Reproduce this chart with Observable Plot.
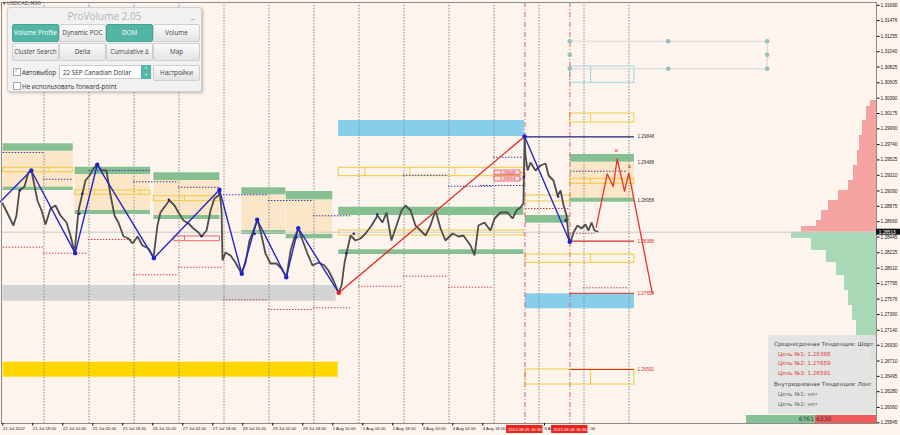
<!DOCTYPE html>
<html><head><meta charset="utf-8">
<script src="https://cdn.jsdelivr.net/npm/d3@7"></script>
<script src="https://cdn.jsdelivr.net/npm/@observablehq/plot@0.6"></script>
<style>
body{margin:0;background:#fdf4ee;font-family:"DejaVu Sans",sans-serif;}
#wrap{position:relative;width:900px;height:435px;overflow:hidden;}
#chart svg{display:block}
.ov{position:absolute;box-sizing:border-box;}
#sym{left:3px;top:0px;font-size:5px;color:#333;}
#panel{left:7px;top:7px;width:195px;height:85px;background:#f1f1f1;border:1px solid #d0d0d0;border-radius:3px;box-shadow:1px 1px 3px rgba(0,0,0,0.25);font-family:"Open Sans",sans-serif;}
#panel .title{position:absolute;left:0;top:1px;width:100%;text-align:center;font-size:10px;color:#b4b4b4;}
#panel .min{position:absolute;right:6px;top:0px;font-size:9px;color:#999;}
.btn{position:absolute;height:16px;border:1px solid #cfcfcf;border-radius:2px;background:linear-gradient(#fafafa,#e4e4e4);font-size:6.3px;color:#444;text-align:center;line-height:15px;}
.btn.on{background:#52b5a6;border-color:#47a394;color:#fff;}
.chk{position:absolute;width:6px;height:6px;border:1px solid #aaa;background:#fff;}
.lbl{position:absolute;font-size:6.3px;color:#333;}
#dd{left:51px;top:57px;width:92px;height:14px;border:1px solid #ccc;background:#fff;font-size:6.3px;color:#333;line-height:13px;padding-left:3px;}
#dd .arr{position:absolute;right:-1px;top:-1px;width:10px;height:14px;background:#52b5a6;color:#fff;font-size:5px;line-height:7px;text-align:center;}
#info{left:768px;top:335px;width:108px;height:79px;background:rgba(226,226,226,0.92);border-radius:2px;font-size:5.6px;color:#444;padding:5px 0 0 6px;line-height:9.6px;}
#info .r{color:#e03a3a;padding-left:4px;}
#info .g{color:#666;padding-left:4px;}
#bar{left:746px;top:415px;width:130px;height:8px;font-size:6px;line-height:8px;}
#bar .gr{position:absolute;left:0;top:0;width:69px;height:8px;background:#86c196;text-align:right;color:#333;padding-right:1px;box-sizing:border-box;}
#bar .rd{position:absolute;left:69px;top:0;width:61px;height:8px;background:#f05a5a;color:#333;padding-left:1px;box-sizing:border-box;}
</style></head><body><div id="wrap"><div id="chart"></div>
<div class="ov" id="sym">▾ USDCAD,M30</div>
<div class="ov" id="panel">
 <div class="title">ProVolume 2.05</div><div class="min">_</div>
 <div class="btn on" style="left:4px;top:16px;width:45px">Volume Profile</div>
 <div class="btn" style="left:51px;top:16px;width:45px">Dynamic POC</div>
 <div class="btn on" style="left:98px;top:16px;width:45px">DOM</div>
 <div class="btn" style="left:145px;top:16px;width:45px">Volume</div>
 <div class="btn" style="left:4px;top:35px;width:45px">Cluster Search</div>
 <div class="btn" style="left:51px;top:35px;width:45px">Delta</div>
 <div class="btn" style="left:98px;top:35px;width:45px">Cumulative Δ</div>
 <div class="btn" style="left:145px;top:35px;width:45px">Map</div>
 <div class="chk" style="left:5px;top:60px"></div><div class="lbl" style="left:6px;top:57px;color:#4a9">✓</div>
 <div class="lbl" style="left:14px;top:60px">Автовыбор</div>
 <div class="ov" id="dd">22 SEP Canadian Dollar<div class="arr">˄<br>˅</div></div>
 <div class="btn" style="left:145px;top:57px;width:45px;height:14px;line-height:13px">Настройки</div>
 <div class="chk" style="left:5px;top:74px"></div>
 <div class="lbl" style="left:14px;top:74px">Не использовать forward-point</div>
</div>
<div class="ov" id="info">
 <div>Среднесрочная Тенденция: Шорт</div>
 <div class="r">Цель №1: 1.28388</div>
 <div class="r">Цель №2: 1.27659</div>
 <div class="r">Цель №3: 1.26591</div>
 <div style="margin-top:2px">Внутридневная Тенденция: Лонг</div>
 <div class="g">Цель №1: нет</div>
 <div class="g">Цель №2: нет</div>
</div>
<div class="ov" id="bar"><div class="gr">6761</div><div class="rd">6330</div></div>
</div>
<script>
// ---- axes ----
const xDomain = [1.33, 468];          // trading hours since 21 Jul 00:00
const yDomain = [1.25835, 1.31729];
const yTicks = [1.31690,1.31476,1.31255,1.31040,1.30825,1.30605,1.30390,1.30175,1.29960,1.29740,1.29525,1.29310,1.29090,1.28875,1.28660,1.28445,1.28225,1.28010,1.27795,1.27576,1.27360,1.27140,1.26930,1.26710,1.26495,1.26280,1.26060,1.25845];
const xTickHours = [2,18,34,50,66,82,98,114,130,146,162,178,194,210,226,242,258,290.9];
const xTickLabels = ["21 Jul 2022","21 Jul 18:00","22 Jul 10:00","25 Jul 02:00","25 Jul 18:00","26 Jul 10:00","27 Jul 02:00","27 Jul 18:00","28 Jul 10:00","29 Jul 02:00","29 Jul 18:00","1 Aug 10:00","2 Aug 02:00","2 Aug 18:00","3 Aug 10:00","4 Aug 02:00","4 Aug 18:00","8 Au"];
const xTickTailHour = 315.4;      // visible tail of the "8 Aug 18:00" label
const xTickTail = "00";
const daySeparators = [24,48,72,96,120,144,168,192,216,240,264,288,312,336];
const markerHours = [280.5, 304.5];
const markerLabels = ["2022.08.05 16:30","2022.08.08 16:30"];

// ---- price ----
const priceH = [1.9,5.1,7.7,9.3,10.9,13.6,15.7,17.3,18.9,20.5,22.7,24.8,27.5,30.1,32.8,36.0,38.1,40.3,42.4,44.5,46.1,48.3,50.4,52.5,54.7,57.3,59.5,61.6,63.7,66.4,69.1,71.2,73.9,76.5,79.7,82.4,84.5,86.1,88.8,90.9,93.6,95.7,98.4,101.1,103.7,106.4,108.0,110.7,112.8,114.9,117.1,117.6,118.7,119.2,120.8,123.5,126.1,129.3,131.5,133.6,135.7,137.9,140.0,142.1,144.8,148.0,150.7,153.3,155.5,157.6,159.7,161.9,164.5,167.2,170.4,173.6,175.7,178.4,181.1,182.7,184.3,185.9,187.5,190.1,192.8,195.5,198.7,201.9,204.5,206.7,209.3,212.0,214.7,216.8,219.5,222.1,224.8,227.5,230.1,232.8,235.5,238.1,241.9,245.1,247.7,251.5,253.6,255.7,258.9,262.1,264.3,267.5,271.2,273.9,276.0,278.1,279.7,280.3,280.8,281.9,283.5,286.1,288.8,291.5,293.1,295.7,297.9,299.5,301.1,302.7,303.7,304.8,306.4,308.5,310.7,312.8,314.4,316.0,317.6,319.2];
const priceP = [1.28915,1.28747,1.28607,1.28747,1.29097,1.29153,1.29349,1.29377,1.29167,1.28957,1.28817,1.28621,1.28845,1.28887,1.28747,1.28649,1.28467,1.28229,1.28817,1.29055,1.29237,1.29307,1.29405,1.29461,1.29377,1.29377,1.29027,1.28747,1.28649,1.28453,1.28425,1.28355,1.28453,1.28327,1.28285,1.28159,1.28607,1.28789,1.28887,1.28957,1.28887,1.28789,1.28677,1.28635,1.28565,1.28509,1.28453,1.28537,1.28817,1.28985,1.29027,1.29111,1.28817,1.28117,1.28229,1.28187,1.28089,1.27935,1.28089,1.28397,1.28537,1.28691,1.28467,1.28215,1.28075,1.28075,1.28005,1.27879,1.28257,1.28439,1.28565,1.28397,1.28215,1.28047,1.28089,1.28047,1.27977,1.27837,1.27669,1.27767,1.28089,1.28285,1.28467,1.28397,1.28425,1.28495,1.28607,1.28747,1.28649,1.28789,1.28397,1.28607,1.28817,1.28887,1.28817,1.28607,1.28537,1.28467,1.28607,1.28817,1.28565,1.28397,1.28495,1.28453,1.28467,1.28327,1.28187,1.28607,1.28649,1.28537,1.28705,1.28789,1.28789,1.28705,1.28817,1.28859,1.28915,1.29853,1.29587,1.29377,1.29489,1.29377,1.29447,1.29475,1.29307,1.29237,1.29027,1.29097,1.28887,1.28747,1.28467,1.28369,1.28509,1.28607,1.28565,1.28621,1.28537,1.28649,1.28537,1.28523];
const currentPrice = 1.28513;

// ---- zigzag ----
const zigBlueH = [0.8,17.2,40.6,52.4,82.6,117.6,129.5,137.7,153.2,159.6,181.2];
const zigBlueP = [1.28943,1.29377,1.28220,1.29457,1.28150,1.29107,1.27931,1.28687,1.27883,1.28569,1.27665];
const zigRedH = [181.2,280.3];
const zigRedP = [1.27665,1.29853];
const zigBlue2H = [280.3,304.4];
const zigBlue2P = [1.29853,1.28380];
const projH = [318.5,324.4,327.6,329.7,333.6,335.9,348.4];
const projP = [1.28584,1.29331,1.29153,1.29541,1.29088,1.29339,1.27660];
const minorDotH = [11.1,44.4,42.9,90.6,108,136.4,158.5,185.2,189.2,201.7,298.2,279.9,302.1];
const minorDotP = [1.29097,1.29051,1.28771,1.28967,1.28458,1.28491,1.28443,1.28220,1.28491,1.28761,1.29013,1.29284,1.28677];
const crossH = [329.2,336.3];
const crossP = [1.29648,1.29424];

// ---- zones [h1,h2,pLo,pHi] ----
const orangeZones = [[2.2,39.6,1.29135,1.29647],[40.6,80.8,1.28817,1.29321],[82.6,117.8,1.28747,1.29237],[129.5,153.0,1.28537,1.29037],[153.2,178.0,1.28481,1.28967],[304.6,338.9,1.28989,1.29494]];
const greenBars = [[2.2,39.6,1.29647,1.29751],[2.2,39.6,1.29097,1.29143],[40.6,80.8,1.29321,1.29423],[40.6,80.8,1.28761,1.28817],[82.6,117.8,1.29237,1.29345],[82.6,117.8,1.28691,1.28747],[129.5,153.0,1.29037,1.29135],[129.5,153.0,1.28481,1.28537],[153.2,178.0,1.28967,1.29083],[153.2,178.0,1.28421,1.28481],[181.2,279.9,1.28747,1.28863],[181.2,279.9,1.28201,1.28267],[280.8,304.4,1.28640,1.28747],[304.6,338.9,1.29494,1.29601],[304.6,338.9,1.28933,1.28989]];
const yellowBoxes = [[2.2,39.6,1.29353,1.29415],[40.6,80.8,1.29037,1.29097],[82.6,117.8,1.28947,1.29017],[181.2,279.9,1.29298,1.29415],[181.2,279.9,1.28467,1.28537],[280.8,304.4,1.28943,1.29027],[304.6,338.9,1.30049,1.30175],[304.6,338.9,1.29191,1.29261],[280.8,338.9,1.28085,1.28201],[280.8,338.9,1.26381,1.26591]];
const yellowDividers = [[26.9,1.29353,1.29415],[50.9,1.29037,1.29097],[75.5,1.29037,1.29097],[98.9,1.28947,1.29017],[195.1,1.29298,1.29415],[219.1,1.29298,1.29415],[243.1,1.29298,1.29415],[315.5,1.30049,1.30175],[315.5,1.29191,1.29261],[315.5,1.28085,1.28201],[315.5,1.26381,1.26591]];
const skyBars = [[181.1,280.3,1.29853,1.30077],[280.8,338.9,1.27441,1.27651]];
const skyBoxes = [[304.6,338.9,1.30605,1.30833]];
const skyDividers = [[315.5,1.30605,1.30833]];
const grayBars = [[2.2,179.8,1.27547,1.27767]];
const goldBars = [[2.2,180.9,1.26483,1.26693]];
const redBoxes = [[93.6,117.8,1.28387,1.28454]];
const redBoxDividers = [[98.9,1.28387,1.28454]];

// ---- dotted levels [h1,h2,p] ----
const blueDotted = [[2.2,23.7,1.29629],[23.7,39.6,1.29255],[47.9,80.8,1.29377],[71.7,95.7,1.29219],[95.7,117.6,1.29143],[119.7,143.7,1.29037],[143.7,167.7,1.28957],[167.7,187.5,1.28743],[215.7,239.7,1.29311],[239.7,263.7,1.29157],[256.8,279.7,1.29167],[263.7,279.7,1.29563],[304.8,335.2,1.29367]];
const redDotted = [[2.2,23.7,1.28303],[23.7,47.7,1.28219],[47.7,71.7,1.28411],[71.7,95.7,1.27917],[95.7,119.7,1.28023],[119.7,143.7,1.27567],[143.7,167.7,1.27431],[167.7,187.5,1.27455],[191.7,215.2,1.27757],[215.7,239.7,1.27897],[239.7,263.7,1.27743],[280.8,304.4,1.28845],[304.8,318.1,1.28499],[311.8,335.7,1.27735]];

// ---- target levels ----
const levelPrices = [1.29848,1.28388,1.27659,1.26591];
const levelStart = [280.3,304.4,304.4,304.4];
const levelEnd = [338.9,338.9,338.9,338.9];
const levelColors = ["#1c1c7a","#d32f2f","#d32f2f","#d32f2f"];
const tagPrices = [1.29848,1.29488,1.28958,1.28388,1.27659,1.26591];
const tagColors = ["#333","#333","#333","#d32f2f","#d32f2f","#d32f2f"];
const tagHour = 340.5;
const boxTagLabels = ["1.29348","1.29263"];
const boxTagRanges = [[264.3,278.1,1.29317,1.29377],[264.3,278.1,1.29223,1.29293]];

// ---- drawing tool (top right) ----
const toolH = [304.4,356.9,409.7];
const toolP = [1.31187,1.30997,1.30801];
const toolDots = [[304.4,1.31187],[356.9,1.31187],[409.7,1.31187],[304.4,1.30997],[409.7,1.30997],[304.4,1.30801],[356.9,1.30801],[409.7,1.30801]];

// ---- volume profile [pHi,pLo,volume] ----
const volSell = [[1.30357,1.30273,6],[1.30273,1.30077,10],[1.30077,1.29867,14],[1.29867,1.29657,17],[1.29657,1.29447,19],[1.29447,1.29237,23],[1.29237,1.29097,28],[1.29097,1.28957,38],[1.28957,1.28817,48],[1.28817,1.28677,55],[1.28677,1.28593,60],[1.28593,1.28513,75]];
const volBuy = [[1.28513,1.28425,85],[1.28425,1.28257,65],[1.28257,1.28089,50],[1.28089,1.27907,40],[1.27907,1.27697,32],[1.27697,1.27487,28],[1.27487,1.27277,24],[1.27277,1.27067,20],[1.27067,1.26927,16],[1.26927,1.26717,6]];
const volUnitHours = 1/1.875;

const axisFont = "Liberation Sans, Arial, sans-serif";
const xEnd = xDomain[1];
const R = (arr, opts) => Plot.rect(arr, {x1:d=>d[0], x2:d=>d[1], y1:d=>d[2], y2:d=>d[3], ...opts});
const pts = (H,P) => H.map((h,i)=>({h, p:P[i]}));

const chart = Plot.plot({
  width: 900, height: 435,
  marginLeft: 1, marginRight: 24, marginTop: 2, marginBottom: 12,
  x: {domain: xDomain},
  y: {domain: yDomain},
  style: {background: "#fdf4ee", fontFamily: axisFont},
  marks: [
    R(orangeZones, {fill: "#fce6c8"}),
    R(grayBars, {fill: "#d3d3d3"}),
    R(goldBars, {fill: "#ffd700"}),
    R(skyBars, {fill: "#87ceeb"}),
    Plot.ruleX(daySeparators, {stroke: "#8a8a8a", strokeWidth: 1, strokeDasharray: "1.5,1.5"}),
    R(greenBars, {fill: "#86bf91"}),
    R(yellowBoxes, {stroke: "#f0cc3c", strokeWidth: 1}),
    Plot.ruleX(yellowDividers, {x: d=>d[0], y1: d=>d[1], y2: d=>d[2], stroke: "#f0cc3c"}),
    R(skyBoxes, {stroke: "#9fd3e6", strokeWidth: 1}),
    Plot.ruleX(skyDividers, {x: d=>d[0], y1: d=>d[1], y2: d=>d[2], stroke: "#9fd3e6"}),
    R(redBoxes, {stroke: "#e06a6a", strokeWidth: 1}),
    Plot.ruleX(redBoxDividers, {x: d=>d[0], y1: d=>d[1], y2: d=>d[2], stroke: "#e06a6a"}),
    Plot.ruleY(blueDotted, {x1: d=>d[0], x2: d=>d[1], y: d=>d[2], stroke: "#3a3aa0", strokeDasharray: "1.5,1.5"}),
    Plot.ruleY(redDotted, {x1: d=>d[0], x2: d=>d[1], y: d=>d[2], stroke: "#d04040", strokeDasharray: "1.5,1.5"}),
    // volume profile
    Plot.rect(volSell, {x1: d=>xEnd - d[2]*volUnitHours, x2: xEnd, y1: d=>d[1], y2: d=>d[0], fill: "#f5a3a0"}),
    Plot.rect(volBuy, {x1: d=>xEnd - d[2]*volUnitHours, x2: xEnd, y1: d=>d[1], y2: d=>d[0], fill: "#a9d8b7"}),
    Plot.ruleY([currentPrice], {stroke: "#c9c9c9", strokeWidth: 1}),
    Plot.ruleX(markerHours, {stroke: "#e06060", strokeWidth: 1, strokeDasharray: "5,2,1,2"}),
    // drawing tool
    Plot.ruleY(toolP.filter((p,i)=>i!==1), {x1: toolH[0], x2: toolH[2], y: d=>d, stroke: "#d6d6d6"}),
    Plot.ruleX([toolH[2]], {y1: toolP[2], y2: toolP[0], stroke: "#d6d6d6"}),
    Plot.dot(toolDots, {x: d=>d[0], y: d=>d[1], r: 2.3, fill: "#94c2b8"}),
    // price
    Plot.line(pts(priceH, priceP), {x: "h", y: "p", stroke: "#4d4d4d", strokeWidth: 1.8, strokeLinejoin: "miter"}),
    // levels
    Plot.ruleY(levelPrices, {x1: (d,i)=>levelStart[i], x2: (d,i)=>levelEnd[i], y: d=>d, stroke: (d,i)=>levelColors[i], strokeWidth: 1.1}),
    Plot.text(tagPrices, {x: tagHour, y: d=>d, text: d=>d.toFixed(5), fill: (d,i)=>tagColors[i], fontSize: 4.6, textAnchor: "start"}),
    // zigzag
    Plot.line(pts(zigBlueH, zigBlueP), {x: "h", y: "p", stroke: "#2626c8", strokeWidth: 1.4}),
    Plot.line(pts(zigBlue2H, zigBlue2P), {x: "h", y: "p", stroke: "#2626c8", strokeWidth: 1.4}),
    Plot.line(pts(zigRedH, zigRedP), {x: "h", y: "p", stroke: "#e3261f", strokeWidth: 1.3}),
    Plot.line(pts(projH, projP), {x: "h", y: "p", stroke: "#e8322a", strokeWidth: 1.3}),
    Plot.dot(pts(zigBlueH.slice(1,-1), zigBlueP.slice(1,-1)).concat(pts(zigBlue2H, zigBlue2P)), {x: "h", y: "p", r: 2.2, fill: "#2020d0"}),
    Plot.dot(pts([zigRedH[0]], [zigRedP[0]]), {x: "h", y: "p", r: 2.3, fill: "#ee1c1c"}),
    Plot.dot(pts(minorDotH, minorDotP), {x: "h", y: "p", r: 1.2, fill: "#1a1a90"}),
    Plot.text(pts(crossH, crossP), {x: "h", y: "p", text: () => "×", fill: "#e03030", fontSize: 7}),
    // box tags
    R(boxTagRanges, {fill: "#fbe3e3", stroke: "#e05555", strokeWidth: 0.8}),
    Plot.text(boxTagLabels, {x: (d,i)=>(boxTagRanges[i][0]+boxTagRanges[i][1])/2, y: (d,i)=>(boxTagRanges[i][2]+boxTagRanges[i][3])/2, text: d=>d, fill: "#d02020", fontSize: 4.3}),
    Plot.ruleY(boxTagLabels, {x1: (d,i)=>boxTagRanges[i][1], x2: 280.5, y: (d,i)=>(boxTagRanges[i][2]+boxTagRanges[i][3])/2, stroke: "#e05555", strokeWidth: 0.8}),
    // axes
    Plot.frame({stroke: "#8a8a8a", strokeWidth: 1}),
    Plot.axisY(yTicks, {anchor: "right", tickFormat: d=>d.toFixed(5), tickSize: 2.5, tickPadding: 1.5, fontSize: 4.7, fill: "#222", label: null}),
    Plot.axisX(xTickHours, {anchor: "bottom", tickFormat: d=>xTickLabels[xTickHours.indexOf(d)], tickSize: 2.5, tickPadding: 1, textAnchor: "start", fontSize: 4.3, fill: "#222", label: null}),
    Plot.text([xTickTail], {x: xTickTailHour, frameAnchor: "bottom", dy: 6.2, text: d=>d, textAnchor: "start", fontSize: 4.3, fill: "#222"}),
    // current price tag on axis
    Plot.rect([currentPrice], {x1: xEnd, x2: xEnd + 12.8, y1: d=>d-0.00042, y2: d=>d+0.00042, fill: "#111"}),
    Plot.text([currentPrice], {x: xEnd + 1.2, y: d=>d, text: d=>d.toFixed(5), fill: "#fff", fontSize: 4.7, textAnchor: "start"}),
    // time markers on x axis
    Plot.rect(markerHours, {x1: d=>d-9.8, x2: d=>d+9.6, y1: 1.25695, y2: 1.25808, fill: "#e8231e"}),
    Plot.text(markerHours, {x: d=>d, y: 1.25752, text: (d,i)=>markerLabels[i], fill: "#fff", fontSize: 4.3})
  ]
});
document.getElementById("chart").appendChild(chart);
</script>
</body></html>
